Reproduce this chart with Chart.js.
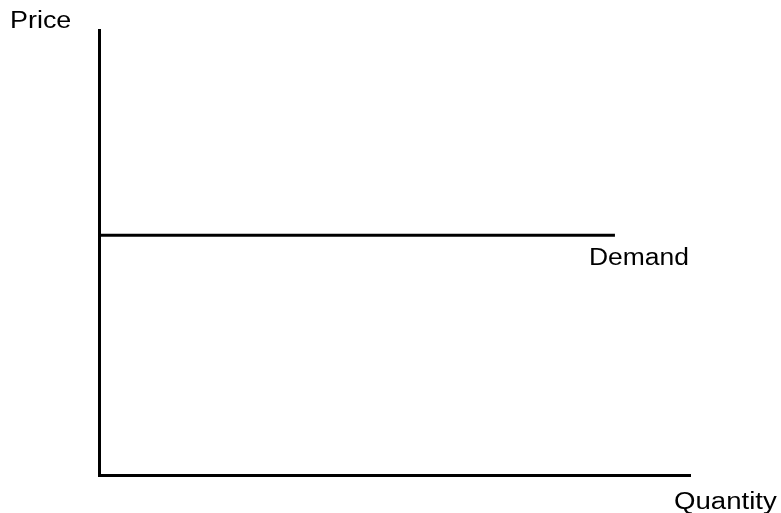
<!DOCTYPE html>
<html>
<head>
<meta charset="utf-8">
<script src="https://cdn.jsdelivr.net/npm/chart.js@4/dist/chart.umd.min.js"></script>
<style>
  html, body { margin: 0; padding: 0; background: #fff; }
  #wrap { width: 781px; height: 513px; }
</style>
</head>
<body>
<div id="wrap"><canvas id="c" width="781" height="513"></canvas></div>
<script>
// Data (axes run 0..100 in arbitrary units)
const demandQuantity = [0, 87.3];
const demandPrice = [53.9, 53.9];
const seriesName = 'Demand';
const xAxisTitle = 'Quantity';
const yAxisTitle = 'Price';

const points = demandQuantity.map((q, i) => ({ x: q, y: demandPrice[i] }));

const labelPlugin = {
  id: 'labels',
  afterDraw(chart) {
    const { ctx, chartArea, scales } = chart;
    ctx.save();
    ctx.fillStyle = '#000';
    ctx.font = '23px "Liberation Sans", Arial, sans-serif';
    ctx.textBaseline = 'alphabetic';
    const drawText = (txt, x, y, sx) => {
      ctx.save();
      ctx.translate(x, y);
      ctx.scale(sx, 1);
      ctx.fillText(txt, 0, 0);
      ctx.restore();
    };
    // y-axis title at top-left
    drawText(yAxisTitle, chartArea.left - 89, chartArea.top - 2, 1.17);
    // series label under end of demand line
    const endX = scales.x.getPixelForValue(demandQuantity[demandQuantity.length - 1]);
    const yPix = scales.y.getPixelForValue(demandPrice[demandPrice.length - 1]);
    drawText(seriesName, endX - 26, yPix + 30, 1.15);
    // x-axis title at bottom right
    drawText(xAxisTitle, chartArea.right - 16, chartArea.bottom + 34, 1.2);
    ctx.restore();
  }
};

new Chart(document.getElementById('c'), {
  type: 'scatter',
  data: {
    datasets: [{
      label: seriesName,
      data: points,
      showLine: true,
      borderColor: '#000',
      borderWidth: 3,
      pointRadius: 0,
      fill: false
    }]
  },
  options: {
    responsive: false,
    animation: false,
    layout: { padding: { left: 99, right: 91, top: 30, bottom: 38 } },
    plugins: { legend: { display: false }, tooltip: { enabled: false } },
    scales: {
      x: {
        type: 'linear', min: 0, max: 100,
        grid: { display: false, drawTicks: false },
        ticks: { display: false },
        border: { display: true, color: '#000', width: 3 },
        afterFit(s) { s.height = 0; }
      },
      y: {
        type: 'linear', min: 0, max: 100,
        grid: { display: false, drawTicks: false },
        ticks: { display: false },
        border: { display: true, color: '#000', width: 3 },
        afterFit(s) { s.width = 0; }
      }
    }
  },
  plugins: [labelPlugin]
});
</script>
</body>
</html>
